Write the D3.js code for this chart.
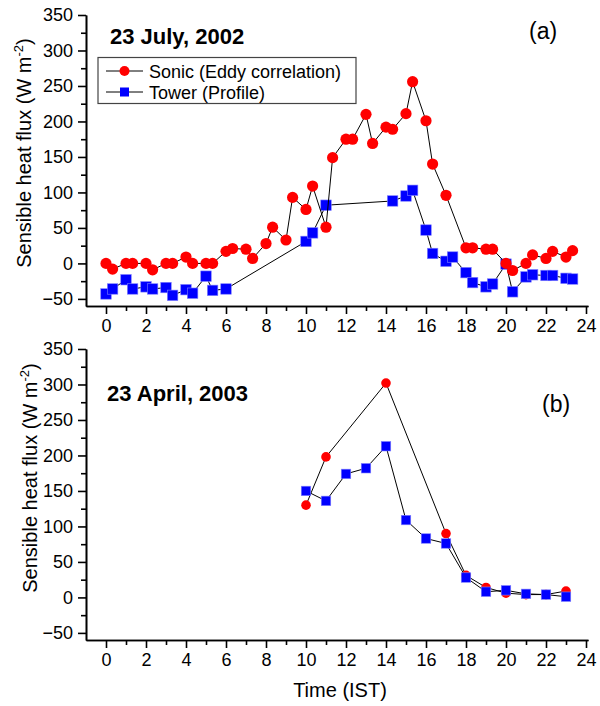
<!DOCTYPE html>
<html>
<head>
<meta charset="utf-8">
<script src="https://cdn.jsdelivr.net/npm/d3@7"></script>
<style>
  body { margin: 0; background: #fff; }
  svg { font-family: "Liberation Sans", Arial, sans-serif; }
  .axis path, .axis line { stroke: #000; stroke-width: 1.6px; }
  .axis text { font-size: 18px; fill: #000; font-family: "Liberation Sans", Arial, sans-serif; }
</style>
</head>
<body>
<svg width="600" height="706"></svg>
<script>
// (a) 23 July 2002 - sonic (eddy correlation)
var julySonicTime = [0, 0.33, 1, 1.33, 2, 2.33, 3, 3.33, 4, 4.33, 5, 5.33, 6, 6.33, 7, 7.33,
  8, 8.33, 9, 9.33, 10, 10.33, 11, 11.33, 12, 12.33, 13, 13.33, 14, 14.33, 15, 15.33,
  16, 16.33, 17, 18, 18.33, 19, 19.33, 20, 20.33, 21, 21.33, 22, 22.33, 23, 23.33];
var julySonic = [0, -8, 0, 0, 0, -9, 0, 0, 9, 0, 0, 0, 17, 21, 20, 7,
  28, 51, 33, 93, 76, 109, 51, 149, 175, 175, 210, 169, 192, 189, 211, 256,
  201, 140, 96, 22, 22, 20, 20, 0, -10, 0, 12, 7, 17, 9, 18];

// (a) tower (profile)
var julyTowerTime = [0, 0.33, 1, 1.33, 2, 2.33, 3, 3.33, 4, 4.33, 5, 5.33, 6,
  10, 10.33, 11, 14.33, 15, 15.33, 16, 16.33, 17, 17.33, 18, 18.33, 19, 19.33,
  20, 20.33, 21, 21.33, 22, 22.33, 23, 23.33];
var julyTower = [-43, -36, -23, -36, -33, -36, -34, -45, -37, -42, -18, -38, -36,
  31, 43, 82, 88, 95, 103, 47, 14, 3, 9, -13, -27, -33, -29,
  -1, -40, -19, -16, -17, -17, -21, -22];

// (b) 23 April 2003
var aprilSonicTime = [10, 11, 14, 17, 18, 19, 20, 21, 22, 23];
var aprilSonic = [130, 198, 302, 90, 31, 14, 6, 4, 4, 9];
var aprilTowerTime = [10, 11, 12, 13, 14, 15, 16, 17, 18, 19, 20, 21, 22, 23];
var aprilTower = [150, 136, 174, 182, 213, 109, 83, 76, 28, 8, 10, 5, 4, 1];

// tick labels
var xTicks = [0, 2, 4, 6, 8, 10, 12, 14, 16, 18, 20, 22, 24];
var xMinor = [1, 3, 5, 7, 9, 11, 13, 15, 17, 19, 21, 23];
var yTicks = [-50, 0, 50, 100, 150, 200, 250, 300, 350];
var yMinor = [-25, 25, 75, 125, 175, 225, 275, 325];

var svg = d3.select("svg");

var x = d3.scaleLinear().domain([-1, 24.1]).range([86, 588]);

function zip(t, v) {
  return t.map(function(d, i) { return {t: d, v: v[i]}; });
}

// one panel: axes, both series, title and letter
function panel(top, bottom, sonic, tower, opts) {
  var y = d3.scaleLinear().domain([-60, 350]).range([bottom, top]);
  var g = svg.append("g");

  // minor ticks first, then the labelled ones
  g.append("g").attr("class", "axis")
      .attr("transform", "translate(0," + bottom + ")")
      .call(d3.axisBottom(x).tickValues(xMinor).tickSize(5).tickSizeOuter(0).tickFormat(""));
  g.append("g").attr("class", "axis")
      .attr("transform", "translate(0," + bottom + ")")
      .call(d3.axisBottom(x).tickValues(xTicks).tickSize(8).tickPadding(5).tickSizeOuter(0));

  g.append("g").attr("class", "axis")
      .attr("transform", "translate(86,0)")
      .call(d3.axisLeft(y).tickValues(yMinor).tickSize(5).tickSizeOuter(0).tickFormat(""));
  g.append("g").attr("class", "axis")
      .attr("transform", "translate(86,0)")
      .call(d3.axisLeft(y).tickValues(yTicks).tickSize(8).tickPadding(5).tickSizeOuter(0));

  // y axis title with superscript
  var yt = g.append("text")
      .attr("transform", "translate(" + opts.titleX + "," + opts.titleY + ") rotate(-90)")
      .attr("text-anchor", "middle")
      .style("font-size", "20px");
  yt.append("tspan").text("Sensible heat flux (W m");
  yt.append("tspan").attr("dy", -8).style("font-size", "13px").text("-2");
  yt.append("tspan").attr("dy", 8).text(")");

  var line = d3.line()
      .x(function(d) { return x(d.t); })
      .y(function(d) { return y(d.v); });

  function drawSonic() {
    g.append("path").datum(sonic)
        .attr("d", line).attr("fill", "none").attr("stroke", "#000").attr("stroke-width", 1);
    g.selectAll(null).data(sonic).enter().append("circle")
        .attr("cx", function(d) { return x(d.t); })
        .attr("cy", function(d) { return y(d.v); })
        .attr("r", opts.r)
        .attr("fill", "#ff0000");
  }
  function drawTower() {
    g.append("path").datum(tower)
        .attr("d", line).attr("fill", "none").attr("stroke", "#000").attr("stroke-width", 1);
    g.selectAll(null).data(tower).enter().append("rect")
        .attr("x", function(d) { return x(d.t) - opts.s / 2; })
        .attr("y", function(d) { return y(d.v) - opts.s / 2; })
        .attr("width", opts.s)
        .attr("height", opts.s)
        .attr("fill", "#0000ff")
        .attr("stroke", "#8080ff")
        .attr("stroke-width", 0.6);
  }
  if (opts.sonicOnTop) { drawTower(); drawSonic(); }
  else { drawSonic(); drawTower(); }

  g.append("text")
      .attr("x", opts.dateX).attr("y", opts.dateY)
      .style("font-size", "22px").style("font-weight", "bold")
      .text(opts.date);
  g.append("text")
      .attr("x", opts.letterX).attr("y", opts.letterY)
      .style("font-size", "23px")
      .text(opts.letter);
}

panel(15, 306, zip(julySonicTime, julySonic), zip(julyTowerTime, julyTower), {
  r: 5.6, s: 10.5, sonicOnTop: true, titleX: 31, titleY: 153,
  date: "23 July, 2002", dateX: 110, dateY: 44,
  letter: "(a)", letterX: 529, letterY: 39
});

panel(349, 640, zip(aprilSonicTime, aprilSonic), zip(aprilTowerTime, aprilTower), {
  r: 4.8, s: 9.5, sonicOnTop: false, titleX: 37, titleY: 478,
  date: "23 April, 2003", dateX: 107, dateY: 401,
  letter: "(b)", letterX: 542, letterY: 412
});

// legend for panel (a)
var legend = svg.append("g");
legend.append("rect")
    .attr("x", 98).attr("y", 57.5).attr("width", 258).attr("height", 46)
    .attr("fill", "#fff").attr("stroke", "#444").attr("stroke-width", 1.2);
var leg = [{name: "Sonic (Eddy correlation)", y: 71}, {name: "Tower (Profile)", y: 92}];
leg.forEach(function(d, i) {
  legend.append("line")
      .attr("x1", 106).attr("x2", 143).attr("y1", d.y).attr("y2", d.y)
      .attr("stroke", "#000").attr("stroke-width", 1);
  if (i == 0) {
    legend.append("circle").attr("cx", 124.5).attr("cy", d.y).attr("r", 5).attr("fill", "#ff0000");
  } else {
    legend.append("rect").attr("x", 120).attr("y", d.y - 4.5).attr("width", 9).attr("height", 9)
        .attr("fill", "#0000ff");
  }
  legend.append("text")
      .attr("x", 149).attr("y", d.y + 6.5)
      .style("font-size", "18px")
      .text(d.name);
});

// x axis title
svg.append("text")
    .attr("x", 340).attr("y", 697)
    .attr("text-anchor", "middle")
    .style("font-size", "20px")
    .text("Time (IST)");
</script>
</body>
</html>
